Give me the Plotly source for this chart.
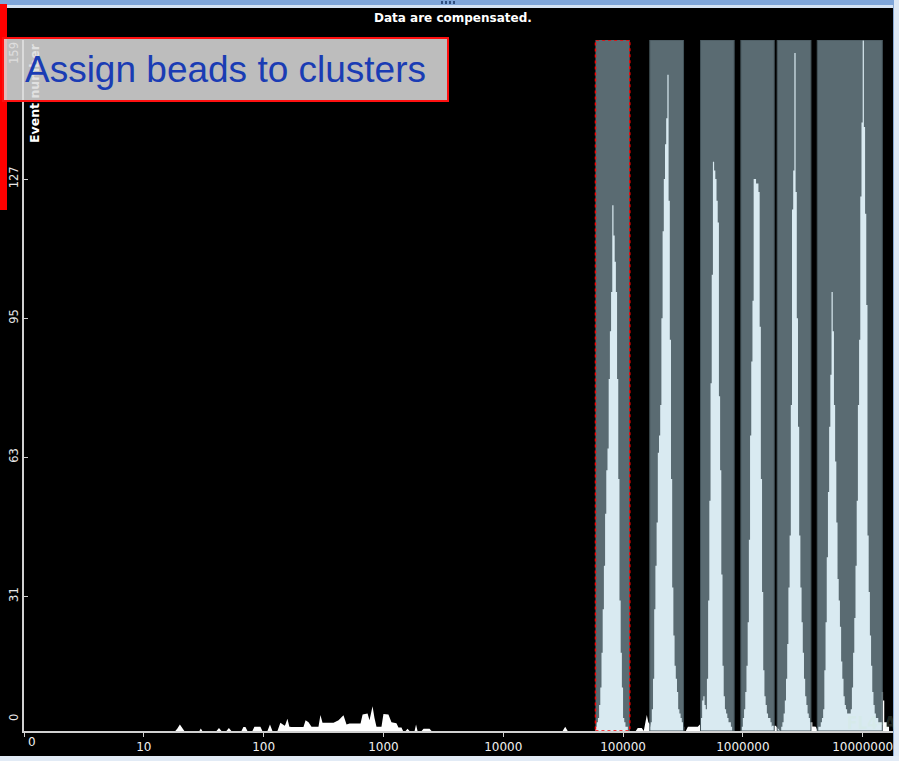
import plotly.graph_objects as go

# ---------------- data ----------------
BIN = 0.01  # channel width in decades

# Bead peaks: log10 of first channel edge, counts per channel
P1_START = 4.77
P1_COUNTS = [1, 2, 3, 6, 10, 18, 28, 38, 50, 60, 65, 81, 92, 101, 121, 114, 108, 101, 81, 58,
             30, 18, 10, 3, 2, 1, 1]
P2_START = 5.22
P2_COUNTS = [1, 2, 5, 12, 28, 38, 48, 64, 68, 75, 95, 115, 127, 135, 141, 151, 122, 90, 58, 33,
             22, 15, 12, 9, 5, 4, 3, 2, 1]
P3_START = 5.64
P3_COUNTS = [1, 3, 7, 8, 6, 5, 12, 30, 53, 80, 105, 131, 129, 127, 122, 117, 77, 60, 36, 15,
             8, 5, 4, 3, 2, 2, 1]
P4_START = 5.99
P4_COUNTS = [1, 3, 5, 9, 15, 25, 44, 68, 85, 99, 127, 127, 126, 126, 124, 93, 58, 32, 14, 8,
             6, 4, 3, 3, 2, 1, 1]
P5_START = 6.32
P5_COUNTS = [1, 2, 4, 7, 12, 20, 33, 45, 75, 120, 129, 156, 124, 95, 70, 45, 33, 25, 18, 12,
             8, 6, 4, 3, 2, 2, 1, 1]
P6_START = 6.63
P6_COUNTS = [1, 1, 2, 3, 5, 14, 25, 40, 55, 70, 82, 101, 92, 75, 62, 48, 35, 30, 24, 16,
             12, 8, 6, 5, 4, 4, 4, 5, 10, 18, 26, 38, 53, 75, 90, 123, 140, 159, 139, 119,
             98, 45, 32, 22, 15, 9, 6, 4, 3, 3, 2, 2, 2, 9, 7, 2, 2, 1, 1]

# Low-level debris events
NOISE_X = [18.3, 19.0, 20.0, 21.0, 21.8, 29.1, 29.9, 30.8, 40.4, 42.4, 44.5, 48.9, 51.3, 53.8,
           65.3, 67.8, 70.5, 73.3, 80.6, 83.8, 94.0, 97.7, 107.6, 113, 118.5, 130.4, 138, 150,
           152, 158, 164, 171, 215, 224, 237, 251, 287, 298, 310, 383, 422, 464, 492, 521, 644,
           670, 737, 765, 811, 842, 875, 963, 1000, 1101, 1167, 1284, 1335, 1415, 1458, 1531,
           1589, 1652, 1820, 1871, 1926, 2080, 2162, 2427, 2523, 31300, 32900, 34500, 127600,
           132700, 143300, 148900, 153300, 157800, 162500, 168800, 172000, 334000, 347500,
           420700, 437500, 445000, 1.68e6, 1.75e6, 1.88e6, 2.0e6, 2.05e6, 3.72e6, 3.77e6,
           4.07e6, 4.2e6]
NOISE_Y = [0, 0.5, 1.5, 0.5, 0, 0, 0.6, 0, 0, 0.7, 0, 0, 0.7, 0,
           0, 0.9, 0.9, 0, 0, 1, 1, 0, 0, 1.5, 0, 0, 1.9, 1.2,
           1.5, 2.8, 1, 0.9, 0.9, 2.5, 2.0, 1, 1, 3.7, 1.9, 1.9, 2.5, 3.6, 1.5, 1.7, 1.7,
           3.8, 4, 2.5, 5.7, 3, 1, 1, 3.9, 3.8, 2, 1.8, 0.8, 0.8, 0, 0,
           0.5, 0, 0, 1.5, 0, 0, 0.5, 0.5, 0, 0, 1, 0, 0,
           0.7, 0.7, 0, 2, 3.7, 2, 1.5, 0, 0, 1,
           1, 1.5, 0, 0, 1.2, 1.2, 0.5, 0, 0, 1,
           1, 0]

# Cluster gates (FL4-A ranges)
GATE_LO = [58830, 167150, 443200, 962200, 1934000, 4176000]
GATE_HI = [113760, 319700, 845800, 1826000, 3699000, 14580000]

X_TICKS = [1, 10, 100, 1000, 10000, 100000, 1000000, 10000000]
X_TICKTEXT = ["", "10", "100", "1000", "10000", "100000", "1000000", "10000000"]
Y_TICKS = [0, 31, 63, 95, 127, 159]
Y_TICKTEXT = ["", "31", "63", "95", "127", ""]

PEAKS = [(P1_START, P1_COUNTS), (P2_START, P2_COUNTS), (P3_START, P3_COUNTS),
         (P4_START, P4_COUNTS), (P5_START, P5_COUNTS), (P6_START, P6_COUNTS)]

# ---------------- figure ----------------
W, H = 899, 761
ML, MR, MT, MB = 24, 6, 40, 30
PW, PH = W - ML - MR, H - MT - MB


def px_x(px):
    return (px - ML) / PW


def px_y(py):
    return (H - MB - py) / PH


fig = go.Figure()

fig.add_trace(go.Scatter(x=NOISE_X, y=NOISE_Y, mode="lines", line=dict(width=0, color="white"),
                         fill="tozeroy", fillcolor="white", hoverinfo="skip"))

for start, counts in PEAKS:
    edges = [10 ** (start + BIN * i) for i in range(len(counts) + 1)]
    xs = [edges[0]] + edges
    ys = [0] + list(counts) + [0]
    fig.add_trace(go.Scatter(x=xs, y=ys, mode="lines", line_shape="hv",
                             line=dict(width=0, color="white"),
                             fill="tozeroy", fillcolor="white", hoverinfo="skip"))

shapes = []
for i, (lo, hi) in enumerate(zip(GATE_LO, GATE_HI)):
    if i == 0:
        line = dict(color="#ff0000", width=1.5, dash="dot")
    else:
        line = dict(color="#44545a", width=1)
    shapes.append(dict(type="rect", xref="x", yref="y", x0=lo, x1=hi, y0=0, y1=159,
                       fillcolor="rgba(180,214,228,0.5)", line=line, layer="above"))


def deco(x0, x1, y0, y1, color):
    return dict(type="rect", xref="paper", yref="paper", x0=px_x(x0), x1=px_x(x1),
                y0=px_y(y1), y1=px_y(y0), fillcolor=color, line=dict(width=0), layer="above")


shapes += [
    deco(0, 899, 0, 5, "#7fa6da"),
    deco(0, 899, 5, 8, "#d4e3f5"),
    deco(894, 899, 0, 761, "#dce7f4"),
    deco(893, 894, 5, 758, "#8aaad4"),
    deco(0, 899, 756, 761, "#e2ebf6"),
    deco(0, 7, 4, 210, "#ff0000"),
]
for gx in (441, 445, 449, 453):
    shapes.append(deco(gx, gx + 2, 1, 4, "#2f4f80"))

label_font = dict(family="DejaVu Sans", size=11.5, color="#e6e6e6")


def note(text, px, py, font, **kw):
    d = dict(text=text, x=px_x(px), y=px_y(py), xref="paper", yref="paper", showarrow=False,
             xanchor="center", yanchor="middle", font=font)
    d.update(kw)
    return d


annotations = [
    note("<b>Data are compensated.</b>", 453, 18,
         dict(family="DejaVu Sans", size=12, color="white")),
    note("<b>Event number</b>", 34, 93,
         dict(family="DejaVu Sans", size=12.5, color="white"), textangle=-90),
    note("159", 14, 53, label_font, textangle=-90),
    note("0", 14, 718, label_font, textangle=-90),
    note("0", 31.5, 742, dict(family="DejaVu Sans", size=12, color="#f0f0f0")),
    note("<b>FL4-A</b>", 871, 723,
         dict(family="Liberation Sans Narrow, DejaVu Sans Condensed, DejaVu Sans", size=17,
              color="rgba(200,240,200,0.18)")),
    dict(text="Assign beads to clusters", x=px_x(4), y=px_y(37), xref="paper", yref="paper",
         xanchor="left", yanchor="top", showarrow=False, width=443, height=61, align="center",
         valign="middle", bgcolor="rgba(220,220,220,0.86)", bordercolor="#ff1010",
         borderwidth=2, borderpad=0, xshift=-2,
         font=dict(family="Liberation Sans, Arial", size=37, color="#1a3cb4")),
]

fig.update_layout(
    width=W, height=H,
    margin=dict(l=ML, r=MR, t=MT, b=MB),
    paper_bgcolor="black", plot_bgcolor="black",
    showlegend=False,
    shapes=shapes,
    annotations=annotations,
    xaxis=dict(type="log", range=[0, 7.253], showgrid=False, zeroline=False,
               showline=True, linecolor="#d0d0d0", linewidth=1.5,
               ticks="outside", ticklen=4, tickcolor="#d0d0d0", tickwidth=1,
               tickvals=X_TICKS, ticktext=X_TICKTEXT,
               tickfont=dict(family="DejaVu Sans", size=12, color="#f0f0f0")),
    yaxis=dict(range=[0, 159], showgrid=False, zeroline=False,
               showline=True, linecolor="#d0d0d0", linewidth=1.5,
               ticks="inside", ticklen=4, tickcolor="#d0d0d0", tickwidth=1,
               tickvals=Y_TICKS, ticktext=Y_TICKTEXT, tickangle=-90,
               tickfont=label_font),
)

fig.write_html("out.html", config={"displayModeBar": False},
               post_script="document.body.style.margin='0';document.body.style.overflow='hidden';")
